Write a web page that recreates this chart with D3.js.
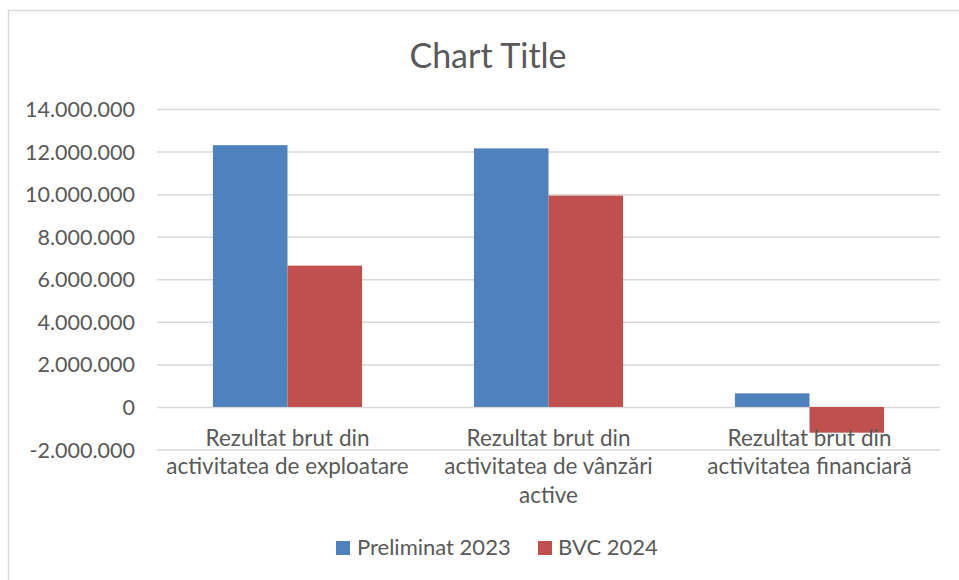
<!DOCTYPE html>
<html>
<head>
<meta charset="utf-8">
<script src="https://cdn.jsdelivr.net/npm/d3@7"></script>
<style>
  body { margin: 0; background: #fff; }
  svg text { font-family: "Lato", "Open Sans", sans-serif; fill: #595959; }
</style>
</head>
<body>
<svg id="chart" width="959" height="580"></svg>
<script>
var categories = [
    "Rezultat brut din activitatea de exploatare",
    "Rezultat brut din activitatea de vânzări active",
    "Rezultat brut din activitatea financiară"
]
var series = ["Preliminat 2023", "BVC 2024"]
var preliminat2023 = [12300000, 12150000, 640000]
var bvc2024 = [6640000, 9930000, -1210000]
var yTicks = [-2000000, 0, 2000000, 4000000, 6000000, 8000000, 10000000, 12000000, 14000000]
var colors = ["#4F81BD", "#C0504D"]

var svg = d3.select("#chart")

// chart area border (continues past the window on right and bottom)
svg.append("rect")
    .attr("x", 8.5).attr("y", 10.5)
    .attr("width", 1000).attr("height", 700)
    .attr("fill", "none")
    .attr("stroke", "#d9d9d9")
    .attr("stroke-width", 1.5)

svg.append("text")
    .attr("x", 488).attr("y", 68)
    .attr("text-anchor", "middle")
    .style("font-size", "34px")
    .text("Chart Title")

var plot = {left: 157, right: 940, top: 109, bottom: 449.5}

var y = d3.scaleLinear()
    .domain([-2000000, 14000000])
    .range([plot.bottom, plot.top])

var x0 = d3.scaleBand()
    .domain(categories)
    .range([plot.left, plot.right])
    .padding(0)

var x1 = d3.scaleBand()
    .domain(series)
    .range([0, x0.bandwidth()])
    .paddingInner(0)
    .paddingOuter(0.75)

var fmt = function(v) {
    if (v === 0) return "0"
    var s = (v < 0 ? "-" : "") + d3.format(",")(Math.abs(v))
    return s.replace(/,/g, ".")
}

// gridlines + y labels
var yAxis = d3.axisLeft(y)
    .tickValues(yTicks)
    .tickSize(-(plot.right - plot.left))
    .tickPadding(22)
    .tickFormat(fmt)

var gy = svg.append("g")
    .attr("transform", "translate(" + plot.left + ",0)")
    .call(yAxis)
gy.select(".domain").remove()
gy.selectAll(".tick line").attr("stroke", "#d9d9d9").attr("stroke-width", 1.5)
gy.selectAll(".tick text")
    .attr("fill", "#595959")
    .style("font-size", "21.5px")
    .attr("dy", "0.35em")

// bars
var rows = categories.map(function(c, i) {
    return {cat: c, values: [preliminat2023[i], bvc2024[i]]}
})

var groups = svg.append("g").selectAll("g")
    .data(rows)
    .enter().append("g")
    .attr("transform", function(d) { return "translate(" + x0(d.cat) + ",0)" })

groups.selectAll("rect")
    .data(function(d) { return d.values.map(function(v, j) { return {s: series[j], v: v, j: j} }) })
    .enter().append("rect")
    .attr("x", function(d) { return x1(d.s) })
    .attr("width", x1.bandwidth())
    .attr("y", function(d) { return y(Math.max(0, d.v)) })
    .attr("height", function(d) { return Math.abs(y(d.v) - y(0)) })
    .attr("fill", function(d) { return colors[d.j] })

// category labels, wrapped to the band width
var xAxis = svg.append("g")
var maxW = x0.bandwidth() - 6
categories.forEach(function(c) {
    var t = xAxis.append("text")
        .attr("text-anchor", "middle")
        .style("font-size", "22.5px")
    var words = c.split(" ")
    var lines = []
    var line = []
    var probe = xAxis.append("text").style("font-size", "22.5px")
    words.forEach(function(w) {
        line.push(w)
        probe.text(line.join(" "))
        if (probe.node().getComputedTextLength() > maxW && line.length > 1) {
            line.pop()
            lines.push(line.join(" "))
            line = [w]
        }
    })
    lines.push(line.join(" "))
    probe.remove()
    var cx = x0(c) + x0.bandwidth() / 2
    lines.forEach(function(l, k) {
        t.append("tspan")
            .attr("x", cx)
            .attr("y", y(0) + 39 + k * 28.5)
            .text(l)
    })
})

// legend
var legendItems = [
    {name: series[0], sx: 336, tx: 357},
    {name: series[1], sx: 538, tx: 558}
]
var legend = svg.append("g")
legendItems.forEach(function(d, i) {
    legend.append("rect")
        .attr("x", d.sx).attr("y", 541)
        .attr("width", 14).attr("height", 14)
        .attr("fill", colors[i])
    legend.append("text")
        .attr("x", d.tx).attr("y", 555)
        .style("font-size", "22px")
        .text(d.name)
})
</script>
</body>
</html>
